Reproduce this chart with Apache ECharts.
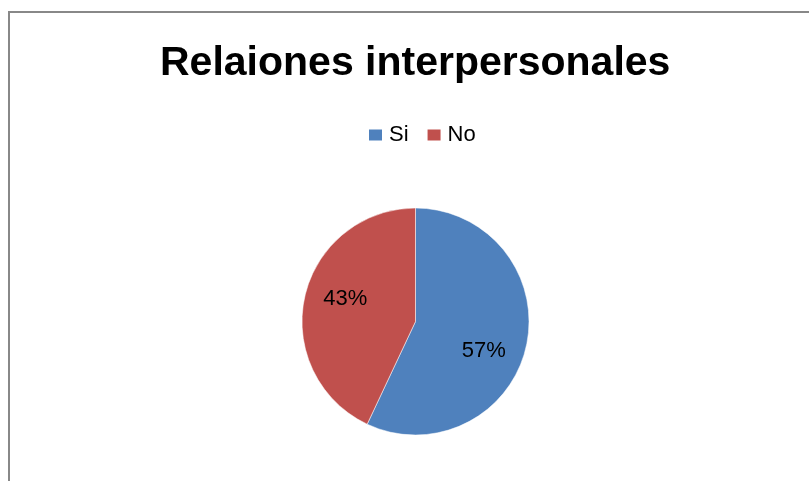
<!DOCTYPE html>
<html>
<head>
<meta charset="utf-8">
<script src="https://cdn.jsdelivr.net/npm/echarts@6/dist/echarts.min.js"></script>
<style>html,body{margin:0;padding:0;background:#fff}#c{width:809px;height:481px}</style>
</head>
<body>
<div id="c"></div>
<script>
const titleText = 'Relaiones interpersonales';
const categories = ['Si', 'No'];
const values = [57, 43];
const colors = ['#4F81BD', '#C0504D'];
const labelOffsets = [[10, 16], [-12, -10]];

const chart = echarts.init(document.getElementById('c'), null, {renderer: 'canvas'});
const font = '"Liberation Sans", Arial, sans-serif';
chart.setOption({
  animation: false,
  backgroundColor: '#fff',
  graphic: [{
    type: 'rect', silent: true,
    shape: {x: 9, y: 12, width: 900, height: 600},
    style: {fill: 'none', stroke: '#888', lineWidth: 2}
  }],
  title: {
    text: titleText, left: 160, top: 43, padding: 0,
    textStyle: {fontFamily: font, fontWeight: 'bold', fontSize: 41, color: '#000'}
  },
  legend: {
    data: categories, top: 124, left: 367, padding: 0,
    icon: 'rect', itemWidth: 15, itemHeight: 13, itemGap: 17,
    textStyle: {fontFamily: font, fontSize: 22, color: '#000', padding: [0,0,0,1]}
  },
  color: colors,
  series: [{
    type: 'pie', center: [415.5, 321.5], radius: 113.5,
    startAngle: 90, clockwise: true,
    itemStyle: {borderColor: '#fff', borderWidth: 0.5},
    label: {position: 'inside', formatter: '{d}%', fontFamily: font, fontSize: 22, color: '#000'},
    labelLine: {show: false},
    data: categories.map((n, i) => ({name: n, value: values[i], label: {offset: labelOffsets[i]}}))
  }]
});
</script>
</body>
</html>
